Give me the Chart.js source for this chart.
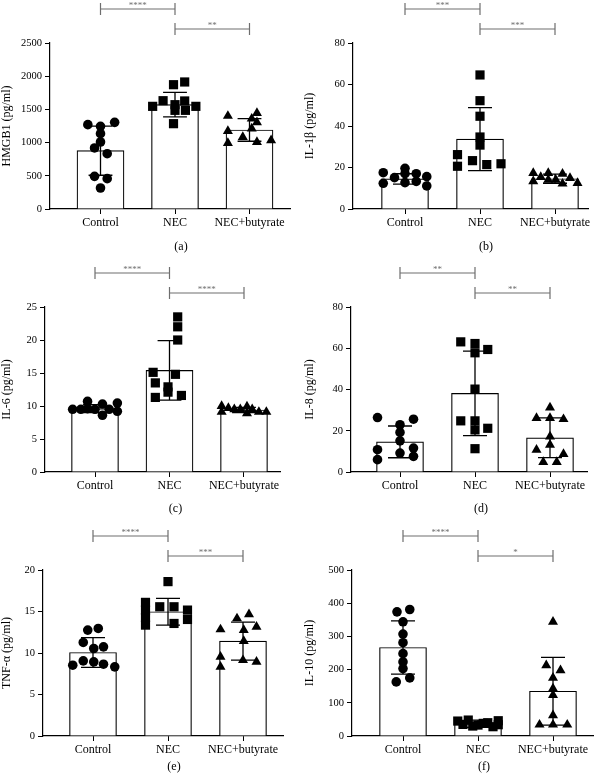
<!DOCTYPE html>
<html>
<head>
<meta charset="utf-8">
<script src="https://cdn.jsdelivr.net/npm/chart.js@4/dist/chart.umd.min.js"></script>
<style>
  body { margin: 0; background: #fff; }
  canvas { position: absolute; }
</style>
</head>
<body>
<canvas id="chartA" width="303" height="258" style="left:0;top:0"></canvas>
<canvas id="chartB" width="303" height="258" style="left:303px;top:0"></canvas>
<canvas id="chartC" width="303" height="260" style="left:0;top:255px"></canvas>
<canvas id="chartD" width="303" height="260" style="left:303px;top:255px"></canvas>
<canvas id="chartE" width="303" height="261" style="left:0;top:515px"></canvas>
<canvas id="chartF" width="303" height="261" style="left:303px;top:515px"></canvas>
<script>
/*---- data ----*/
var categories = ["Control", "NEC", "NEC+butyrate"];

// (a) HMGB1
var hmgbMean = [878, 1571, 1190];
var hmgbSd = [370, 185, 170];
var hmgbValues = [
  [1270, 1245, 1305, 1135, 1009, 919, 833, 492, 457, 316],
  [1872, 1913, 1631, 1627, 1546, 1571, 1486, 1486, 1546, 1285],
  [1401, 1360, 1446, 1305, 1175, 1210, 1084, 994, 1009, 1034]
];
var hmgbJitter = [
  [-0.17, 0, 0.19, 0, 0, -0.08, 0.09, -0.08, 0.09, 0],
  [-0.02, 0.13, -0.16, 0.13, -0.3, 0, 0, 0.14, 0.28, -0.02],
  [-0.29, 0.03, 0.1, 0.1, -0.29, 0.03, -0.09, -0.29, 0.1, 0.29]
];

// (b) IL-1beta
var il1Mean = [14.5, 33.7, 14.6];
var il1Sd = [2.5, 15.2, 2.2];
var il1Values = [
  [17.5, 12.4, 15.1, 19.6, 17, 12.7, 17, 13.3, 15.6, 11.1],
  [64.6, 52.2, 44.7, 34.7, 30.8, 26.2, 20.6, 23.3, 21.4, 21.8],
  [17.3, 13.3, 15.4, 17.3, 14.1, 14.1, 17, 12.2, 14.9, 12.5]
];
var il1Jitter = [
  [-0.29, -0.29, -0.14, 0, 0, 0, 0.15, 0.15, 0.29, 0.29],
  [0, 0, 0, 0, 0, -0.3, -0.3, -0.1, 0.09, 0.28],
  [-0.29, -0.29, -0.19, -0.09, -0.09, 0.01, 0.1, 0.1, 0.2, 0.3]
];

// (c) IL-6
var il6Mean = [9.6, 15.4, 9.4];
var il6Sd = [0.6, 4.5, 0.4];
var il6Values = [
  [9.5, 9.5, 9.6, 9.5, 10.7, 10.3, 8.6, 9.5, 10.45, 9.2],
  [23.5, 22, 20, 15.1, 14.8, 13.5, 12.9, 12.1, 11.3, 11.6],
  [10.0, 9.1, 9.7, 9.5, 9.5, 9.9, 8.9, 9.5, 9.1, 9.1]
];
var il6Jitter = [
  [-0.3, -0.19, -0.1, 0, -0.1, 0.1, 0.1, 0.19, 0.3, 0.3],
  [0.11, 0.11, 0.11, -0.22, 0.08, -0.19, -0.02, -0.02, -0.19, 0.16],
  [-0.3, -0.3, -0.21, -0.13, -0.05, 0.04, 0.04, 0.11, 0.2, 0.3]
];

// (d) IL-8
var il8Mean = [14.6, 38.1, 16.6];
var il8Sd = [7.7, 20.5, 9.6];
var il8Values = [
  [26.4, 25.6, 22.9, 19.2, 15.1, 10.8, 11.6, 9.2, 7.6, 6.0],
  [63.1, 62.3, 57.8, 59.4, 40.2, 24.8, 24.8, 20.4, 21.2, 11.3],
  [31.2, 26.1, 26.1, 25.6, 17.2, 13.2, 10.8, 8.7, 4.8, 4.8]
];
var il8Jitter = [
  [-0.3, 0.18, 0, 0, 0, -0.3, 0.18, 0, 0.18, -0.3],
  [-0.19, 0, 0, 0.17, 0, -0.19, 0, 0, 0.17, 0],
  [0, -0.18, 0, 0.18, 0, 0, -0.18, 0.18, -0.09, 0.09]
];

// (e) TNF-alpha
var tnfMean = [10.06, 14.97, 11.43];
var tnfSd = [1.8, 1.6, 2.3];
var tnfValues = [
  [12.76, 12.96, 11.27, 10.54, 10.74, 9.05, 8.93, 8.53, 8.65, 8.33],
  [18.6, 16.1, 15.17, 14.25, 13.36, 15.57, 15.57, 15.17, 14.04, 13.56],
  [14.65, 14.16, 12.84, 12.76, 13.16, 11.43, 9.54, 9.13, 8.93, 8.33]
];
var tnfJitter = [
  [-0.07, 0.07, -0.13, 0.01, 0.14, -0.13, 0.01, -0.27, 0.14, 0.29],
  [0, -0.3, -0.3, -0.3, -0.3, -0.11, 0.08, 0.26, 0.26, 0.08],
  [0.08, -0.08, -0.3, 0.01, 0.18, 0.01, -0.3, 0, 0.18, -0.3]
];

// (f) IL-10
var il10Mean = [266.6, 37, 134.8];
var il10Sd = [80, 11, 102];
var il10Values = [
  [374, 381, 344, 307, 281, 248, 223, 203, 163, 175],
  [45, 35, 48, 30, 33, 38, 40, 28, 46, 34],
  [344, 213, 198, 175, 143, 123, 62, 34, 34, 34]
];
var il10Jitter = [
  [-0.08, 0.09, 0, 0, 0, 0, 0, 0, -0.09, 0.09],
  [-0.27, -0.2, -0.13, -0.07, 0, 0.07, 0.13, 0.2, 0.27, 0.27],
  [0, -0.09, 0.1, 0, 0, 0, 0, -0.18, 0, 0.19]
];

var pointStyles = ["circle", "rect", "triangle"];
var pointSizes = [4.8, 6.5, 5.8];
var serif = '"Liberation Serif", "Times New Roman", serif';

/*---- brackets and panel letter ----*/
var sigMarks = {
  id: 'sigMarks',
  afterDraw: function (chart, args, opts) {
    var ctx = chart.ctx, xs = chart.scales.x, area = chart.chartArea;
    ctx.save();
    ctx.strokeStyle = '#6e6e6e';
    ctx.fillStyle = '#6e6e6e';
    ctx.lineWidth = 1.2;
    ctx.font = '9px ' + serif;
    ctx.textAlign = 'center';
    ctx.textBaseline = 'bottom';
    opts.marks.forEach(function (m, k) {
      var y = area.top - 34 + k * 20;
      var x1 = xs.getPixelForValue(m[0]), x2 = xs.getPixelForValue(m[1]);
      ctx.beginPath();
      ctx.moveTo(x1, y); ctx.lineTo(x2, y);
      ctx.moveTo(x1, y - 6); ctx.lineTo(x1, y + 6);
      ctx.moveTo(x2, y - 6); ctx.lineTo(x2, y + 6);
      ctx.stroke();
      ctx.fillText(m[2], (x1 + x2) / 2, y + 1);
    });
    ctx.fillStyle = '#000';
    ctx.font = '12px ' + serif;
    ctx.textBaseline = 'middle';
    ctx.fillText(opts.letter, xs.getPixelForValue(1) + 6, area.bottom + opts.letterGap);
    ctx.restore();
  }
};

function makePanel(id, g, title, yMax, yStep, means, sds, values, jitter, marks, letter) {
  var xMin = -(g.c0 - g.axisX) / g.sp;
  var xMax = 2 + (g.right - (g.c0 + 2 * g.sp)) / g.sp;
  var cap = 0.16;

  var errData = [];
  means.forEach(function (m, i) {
    var hi = m + sds[i], lo = m - sds[i];
    errData.push({x: i - cap, y: hi}, {x: i + cap, y: hi}, {x: i, y: null},
                 {x: i, y: hi}, {x: i, y: lo}, {x: i, y: null},
                 {x: i - cap, y: lo}, {x: i + cap, y: lo}, {x: i, y: null});
  });

  var datasets = [{
    type: 'bar',
    data: means.map(function (m, i) { return {x: i, y: m}; }),
    backgroundColor: '#fff',
    borderColor: '#000',
    borderWidth: 1.2,
    barThickness: 47,
    order: 2
  }, {
    type: 'line',
    data: errData,
    borderColor: '#000',
    borderWidth: 1.3,
    pointRadius: 0,
    spanGaps: false,
    order: 0
  }];
  values.forEach(function (grp, i) {
    datasets.push({
      type: 'line',
      showLine: false,
      data: grp.map(function (v, j) { return {x: i + jitter[i][j], y: v}; }),
      pointStyle: pointStyles[i],
      pointRadius: pointSizes[i],
      pointBackgroundColor: '#000',
      pointBorderColor: '#000',
      pointBorderWidth: 0,
      order: 1
    });
  });

  var ctx = document.getElementById(id).getContext('2d');
  return new Chart(ctx, {
    type: 'bar',
    data: { datasets: datasets },
    options: {
      responsive: false,
      animation: false,
      devicePixelRatio: 1,
      layout: { padding: { top: g.top, right: g.w - g.right, left: 0, bottom: 0 } },
      plugins: {
        legend: { display: false },
        tooltip: { enabled: false },
        sigMarks: { marks: marks, letter: letter, letterGap: g.letterGap }
      },
      scales: {
        x: {
          type: 'linear',
          min: xMin,
          max: xMax,
          offset: false,
          afterBuildTicks: function (axis) {
            axis.ticks = [0, 1, 2].map(function (v) { return {value: v}; });
          },
          afterFit: function (axis) { axis.height = g.h - g.bottom; },
          ticks: {
            color: '#000',
            font: { family: serif, size: 12 },
            padding: 2,
            maxRotation: 0,
            callback: function (v) { return categories[v]; }
          },
          grid: { display: true, drawOnChartArea: false, offset: false, tickLength: 5, color: '#000' },
          border: { display: true, color: '#000', width: 1.2 }
        },
        y: {
          min: 0,
          max: yMax,
          afterFit: function (axis) { axis.width = g.axisX; },
          ticks: {
            stepSize: yStep,
            color: '#000',
            font: { family: serif, size: 10.5 },
            padding: 3,
            callback: function (v) { return String(v); }
          },
          title: {
            display: true,
            text: title,
            color: '#000',
            font: { family: serif, size: 12 },
            padding: 0
          },
          grid: { display: true, drawOnChartArea: false, tickLength: 5, color: '#000' },
          border: { display: true, color: '#000', width: 1.2 }
        }
      }
    },
    plugins: [sigMarks]
  });
}

/*---- panels ----*/
makePanel('chartA', {w: 303, h: 258, axisX: 50, top: 43, bottom: 209, c0: 100.5, sp: 74.5, right: 290, letterGap: 38},
  'HMGB1 (pg/ml)', 2500, 500, hmgbMean, hmgbSd, hmgbValues, hmgbJitter,
  [[0, 1, '****'], [1, 2, '**']], '(a)');

makePanel('chartB', {w: 303, h: 258, axisX: 50, top: 43, bottom: 209, c0: 102, sp: 75, right: 285, letterGap: 38},
  'IL-1β (pg/ml)', 80, 20, il1Mean, il1Sd, il1Values, il1Jitter,
  [[0, 1, '***'], [1, 2, '***']], '(b)');

makePanel('chartC', {w: 303, h: 260, axisX: 45, top: 52, bottom: 217, c0: 95, sp: 74.5, right: 280, letterGap: 37},
  'IL-6 (pg/ml)', 25, 5, il6Mean, il6Sd, il6Values, il6Jitter,
  [[0, 1, '****'], [1, 2, '****']], '(c)');

makePanel('chartD', {w: 303, h: 260, axisX: 48, top: 52, bottom: 217, c0: 97, sp: 75, right: 284, letterGap: 37},
  'IL-8 (pg/ml)', 80, 20, il8Mean, il8Sd, il8Values, il8Jitter,
  [[0, 1, '**'], [1, 2, '**']], '(d)');

makePanel('chartE', {w: 303, h: 261, axisX: 43, top: 55, bottom: 221, c0: 93, sp: 75, right: 283, letterGap: 31},
  'TNF-α (pg/ml)', 20, 5, tnfMean, tnfSd, tnfValues, tnfJitter,
  [[0, 1, '****'], [1, 2, '***']], '(e)');

makePanel('chartF', {w: 303, h: 261, axisX: 49, top: 55, bottom: 221, c0: 100, sp: 75, right: 290, letterGap: 31},
  'IL-10 (pg/ml)', 500, 100, il10Mean, il10Sd, il10Values, il10Jitter,
  [[0, 1, '****'], [1, 2, '*']], '(f)');
</script>
</body>
</html>
